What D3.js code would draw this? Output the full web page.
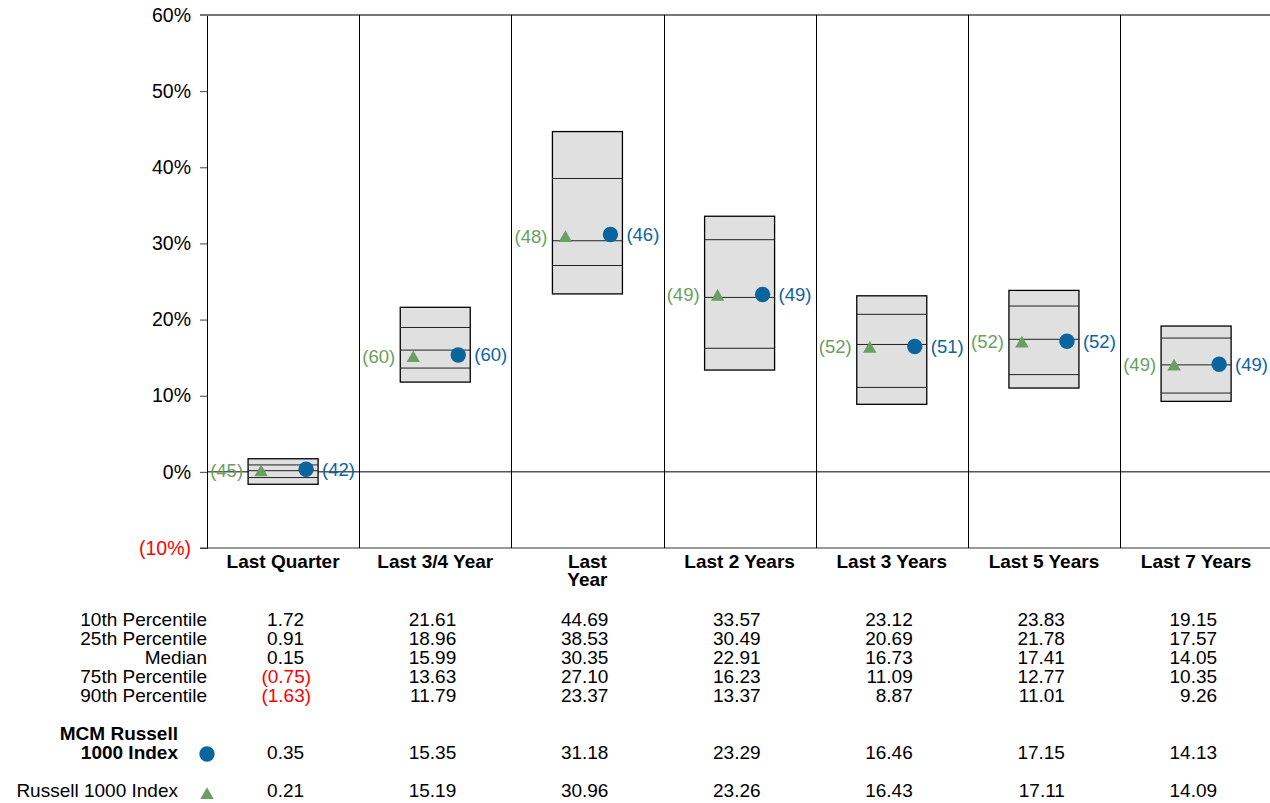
<!DOCTYPE html>
<html>
<head>
<meta charset="utf-8">
<script src="https://cdn.jsdelivr.net/npm/d3@7"></script>
<style>
  html, body { margin: 0; padding: 0; background: #fff; }
  svg { display: block; font-family: "Liberation Sans", Arial, Helvetica, sans-serif; }
</style>
</head>
<body>
<svg id="chart" width="1270" height="803"></svg>
<script>
const categories = ["Last Quarter", "Last 3/4 Year", "Last Year", "Last 2 Years", "Last 3 Years", "Last 5 Years", "Last 7 Years"];
const categoryLines = [["Last Quarter"], ["Last 3/4 Year"], ["Last", "Year"], ["Last 2 Years"], ["Last 3 Years"], ["Last 5 Years"], ["Last 7 Years"]];
const p10 = [1.72, 21.61, 44.69, 33.57, 23.12, 23.83, 19.15];
const p25 = [0.91, 18.96, 38.53, 30.49, 20.69, 21.78, 17.57];
const median = [0.15, 15.99, 30.35, 22.91, 16.73, 17.41, 14.05];
const p75 = [-0.75, 13.63, 27.10, 16.23, 11.09, 12.77, 10.35];
const p90 = [-1.63, 11.79, 23.37, 13.37, 8.87, 11.01, 9.26];
const mcmValues = [0.35, 15.35, 31.18, 23.29, 16.46, 17.15, 14.13];
const russellValues = [0.21, 15.19, 30.96, 23.26, 16.43, 17.11, 14.09];
const mcmRanks = [42, 60, 46, 49, 51, 52, 49];
const russellRanks = [45, 60, 48, 49, 52, 52, 49];
const yTicks = [-10, 0, 10, 20, 30, 40, 50, 60];
const rowLabels = ["10th Percentile", "25th Percentile", "Median", "75th Percentile", "90th Percentile"];
const seriesNames = [["MCM Russell", "1000 Index"], ["Russell 1000 Index"]];

const blue = "#0b649e", green = "#6a9f62", red = "#ff0000";
const svg = d3.select("#chart");
const plotLeft = 207, plotTop = 15, plotBottom = 548, colW = 152.17;

const x = d3.scaleBand().domain(categories).range([plotLeft, plotLeft + colW * categories.length]).paddingInner(0).paddingOuter(0);
const y = d3.scaleLinear().domain([-10, 60]).range([plotBottom, plotTop]);
const boxW = 70;
const cx = c => x(c) + x.bandwidth() / 2;
const triSize = 130;

// Y axis
const yAxis = d3.axisLeft(y).tickValues(yTicks).tickSize(7).tickPadding(9)
  .tickFormat(d => d < 0 ? "(" + Math.abs(d) + "%)" : d + "%");
const ya = svg.append("g").attr("transform", `translate(${plotLeft},0)`).call(yAxis);
ya.select(".domain").attr("stroke", "#000");
ya.selectAll(".tick line").attr("stroke", "#444");
ya.selectAll(".tick text").attr("font-size", 19.5).attr("font-family", "Liberation Sans, Arial, sans-serif")
  .attr("fill", d => d < 0 ? red : "#000");

// top & bottom lines
svg.append("line").attr("x1", plotLeft - 7).attr("x2", 1270).attr("y1", y(60)).attr("y2", y(60)).attr("stroke", "#777").attr("stroke-width", 2);
svg.append("line").attr("x1", plotLeft - 7).attr("x2", 1270).attr("y1", y(-10)).attr("y2", y(-10)).attr("stroke", "#333").attr("stroke-width", 1);
// zero line
svg.append("line").attr("x1", plotLeft).attr("x2", 1270).attr("y1", y(0)).attr("y2", y(0)).attr("stroke", "#000").attr("stroke-width", 1);

// column dividers
svg.append("g").selectAll("line").data(categories.slice(1)).join("line")
  .attr("x1", d => Math.round(x(d)) + 0.5).attr("x2", d => Math.round(x(d)) + 0.5)
  .attr("y1", y(60)).attr("y2", y(-10)).attr("stroke", "#000").attr("stroke-width", 1);

// boxes
const g = svg.append("g");
categories.forEach((c, i) => {
  const bx = cx(c) - boxW / 2;
  g.append("rect").attr("x", bx).attr("y", y(p10[i])).attr("width", boxW)
    .attr("height", y(p90[i]) - y(p10[i])).attr("fill", "#e0e0e0").attr("stroke", "#000").attr("stroke-width", 1.3);
  [p25[i], median[i], p75[i]].forEach(v => {
    g.append("line").attr("x1", bx).attr("x2", bx + boxW).attr("y1", y(v)).attr("y2", y(v))
      .attr("stroke", "#222").attr("stroke-width", 1);
  });
  const tx = cx(c) - 22, ty = y(russellValues[i]);
  g.append("path").attr("d", d3.symbol(d3.symbolTriangle2, triSize)()).attr("transform", `translate(${tx},${ty + 2})`).attr("fill", green);
  g.append("circle").attr("cx", cx(c) + 23).attr("cy", y(mcmValues[i])).attr("r", 7.7).attr("fill", blue);
  g.append("text").attr("x", bx - 5).attr("y", ty).attr("dy", "0.35em").attr("text-anchor", "end")
    .attr("font-size", 18.5).attr("fill", green).text("(" + russellRanks[i] + ")");
  g.append("text").attr("x", bx + boxW + 4).attr("y", y(mcmValues[i])).attr("dy", "0.35em")
    .attr("font-size", 18.5).attr("fill", blue).text("(" + mcmRanks[i] + ")");
});

// category labels
categories.forEach((c, i) => {
  const t = svg.append("text").attr("x", cx(c)).attr("y", 568).attr("text-anchor", "middle")
    .attr("font-size", 19).attr("font-weight", "bold");
  categoryLines[i].forEach((ln, k) => {
    t.append("tspan").attr("x", cx(c)).attr("y", 568 + k * 18).text(ln);
  });
});

// table
const rowY = [626, 645, 664, 683, 702];
const rows = [p10, p25, median, p75, p90];
const fmt = v => v < 0 ? "(" + Math.abs(v).toFixed(2) + ")" : v.toFixed(2);
function valueText(cxv, yv, v) {
  svg.append("text").attr("x", cxv + 21 + (v < 0 ? 7 : 0)).attr("y", yv).attr("text-anchor", "end")
    .attr("font-size", 19).attr("fill", v < 0 ? red : "#000").text(fmt(v));
}
rowLabels.forEach((lab, r) => {
  svg.append("text").attr("x", 207).attr("y", rowY[r]).attr("text-anchor", "end").attr("font-size", 19).text(lab);
  categories.forEach((c, i) => valueText(cx(c), rowY[r], rows[r][i]));
});

const s1 = svg.append("text").attr("text-anchor", "end").attr("font-size", 19).attr("font-weight", "bold");
seriesNames[0].forEach((ln, k) => s1.append("tspan").attr("x", 178).attr("y", 740 + k * 19).text(ln));
svg.append("circle").attr("cx", 207).attr("cy", 754).attr("r", 7.7).attr("fill", blue);
categories.forEach((c, i) => valueText(cx(c), 759, mcmValues[i]));

svg.append("text").attr("x", 178).attr("y", 797).attr("text-anchor", "end").attr("font-size", 19).text(seriesNames[1][0]);
svg.append("path").attr("d", d3.symbol(d3.symbolTriangle2, triSize)()).attr("transform", "translate(207,795)").attr("fill", green);
categories.forEach((c, i) => valueText(cx(c), 797, russellValues[i]));
</script>
</body>
</html>
